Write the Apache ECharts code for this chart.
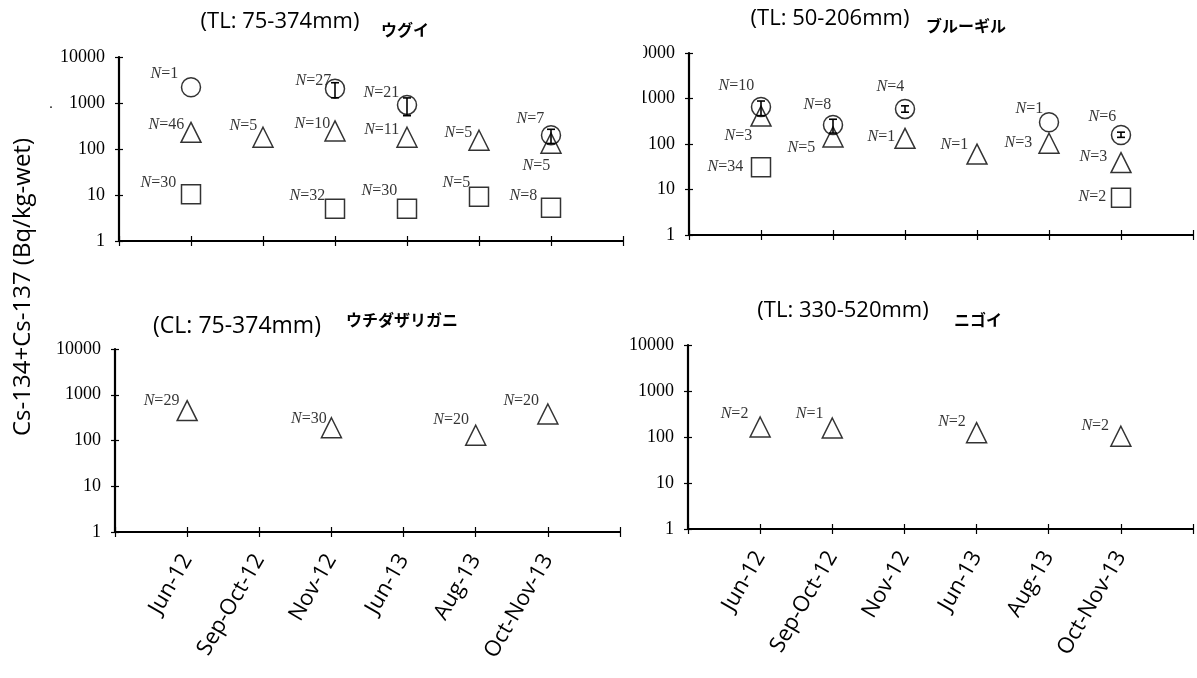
<!DOCTYPE html>
<html>
<head>
<meta charset="utf-8">
<script src="https://cdn.jsdelivr.net/npm/echarts@6/dist/echarts.min.js"></script>
<style>
html,body{margin:0;padding:0;background:#fff;}
#c{width:1197px;height:678px;}
</style>
</head>
<body>
<div id="c"></div>
<script>
// ---------- data ----------
const categories = ["Jun-12", "Sep-Oct-12", "Nov-12", "Jun-13", "Aug-13", "Oct-Nov-13"];
const yMin = 1, yMax = 10000;

// ウグイ
const uguiCircle     = [2200, null, 2040, 910, null, 200];
const uguiCircleLow  = [null, null, 1300, 530, null, 132];
const uguiCircleHigh = [null, null, 2760, 1290, null, 268];
const uguiCircleN    = [1, null, 27, 21, null, 7];
const uguiTriangle   = [230, 180, 247, 180, 155, 134];
const uguiTriangleN  = [46, 5, 10, 11, 5, 5];
const uguiSquare     = [10.4, null, 5.0, 5.0, 9.2, 5.3];
const uguiSquareN    = [30, null, 32, 30, 5, 8];

// ブルーギル
const bluegillCircle     = [650, 262, 590, null, 300, 158];
const bluegillCircleLow  = [420, 174, 500, null, null, 140];
const bluegillCircleHigh = [880, 350, 690, null, null, 182];
const bluegillCircleN    = [10, 8, 4, null, 1, 6];
const bluegillTriangle   = [410, 143, 133, 60, 104, 39];
const bluegillTriangleN  = [3, 5, 1, 1, 3, 3];
const bluegillSquare     = [31, null, null, null, null, 6.6];
const bluegillSquareN    = [34, null, null, null, null, 2];

// ウチダザリガニ
const crayfishTriangle  = [450, null, 190, null, 130, 380];
const crayfishTriangleN = [29, null, 30, null, 20, 20];

// ニゴイ
const nigoiTriangle  = [165, 157, null, 124, null, 104];
const nigoiTriangleN = [2, 1, null, 2, null, 2];

// ---------- label layout (offsets of "N=" labels, px: right edge dx, centre dy) ----------
const uguiCircleLabel       = [[-12,-13], null, [-3,-8], [-7,-12], null, [-6,-16]];
const uguiTriangleLabel     = [[-6,-8], [-5,-11], [-4,-7], [-7,-7], [-6,-7], [0,23]];
const uguiSquareLabel       = [[-14,-11], null, [-9,-13], [-9,-18], [-8,-14], [-13,-12]];
const bluegillCircleLabel   = [[-6,-21], [-1,-20], [0,-22], null, [-5,-13], [-4,-18]];
const bluegillTriangleLabel = [[-8,20], [-17,11], [-9,-2], [-8,-9], [-16,0], [-13,-6]];
const bluegillSquareLabel   = [[-17,0], null, null, null, null, [-14,-1]];
const crayfishTriangleLabel = [[-7,-10], null, [-4,-9], null, [-6,-15], [-8,-13]];
const nigoiTriangleLabel    = [[-11,-13], [-8,-14], null, [-10,-11], null, [-11,-10]];

// ---------- layout ----------
const grids = [
  {left:119, top:57,  width:504, height:184},
  {left:689, top:53,  width:504, height:182},
  {left:115, top:349, width:505, height:183},
  {left:688, top:345, width:505, height:184}
];
const showXLabels = [false, false, true, true];

const SERIF = '"Liberation Serif", "Times New Roman", serif';
const SANS = '"Open Sans", sans-serif';
const CJK = '"Noto Sans CJK JP", sans-serif';

const xAxes = [], yAxes = [];
grids.forEach((g, gi) => {
  const xBase = {
    type:'value', gridIndex:gi, min:0, max:categories.length + 1, interval:1,
    position:'bottom', splitLine:{show:false}
  };
  xAxes.push(Object.assign({}, xBase, {
    axisLine:{show:true, lineStyle:{color:'#000', width:2.2}},
    axisTick:{show:true, inside:false, length:5, lineStyle:{color:'#000', width:1.2}},
    axisLabel:{
      show:showXLabels[gi], rotate:60, margin:24, fontFamily:SANS, fontSize:22, color:'#000',
      formatter:v => categories[v - 1] || ''
    }
  }));
  xAxes.push(Object.assign({}, xBase, {
    axisLine:{show:false},
    axisTick:{show:true, inside:true, length:5, lineStyle:{color:'#000', width:1.2}},
    axisLabel:{show:false}
  }));
  const yBase = {
    type:'log', logBase:10, gridIndex:gi, min:yMin, max:yMax,
    position:'left', splitLine:{show:false}, minorTick:{show:false}
  };
  yAxes.push(Object.assign({}, yBase, {
    axisLine:{show:true, lineStyle:{color:'#000', width:2.2}},
    axisTick:{show:true, inside:false, length:4, lineStyle:{color:'#000', width:1.2}},
    axisLabel:{show:true, margin:14, fontFamily:SERIF, fontSize:18, color:'#000',
      formatter:v => String(Math.round(v))}
  }));
  yAxes.push(Object.assign({}, yBase, {
    axisLine:{show:false},
    axisTick:{show:true, inside:true, length:4, lineStyle:{color:'#000', width:1.2}},
    axisLabel:{show:false}
  }));
});

const labelRich = {
  i:{fontFamily:SERIF, fontStyle:'italic', fontSize:16, color:'#000'},
  n:{fontFamily:SERIF, fontSize:16, color:'#000'}
};

function scatterSeries(gi, symbol, size, values, ns, labelPos) {
  const w = Array.isArray(size) ? size[0] : size;
  const data = [];
  values.forEach((v, i) => {
    if (v == null) return;
    const lp = labelPos[i] || [-8, -10];
    data.push({value:[i + 1, v], n:ns[i], label:{offset:[lp[0] + w / 2, lp[1]]}});
  });
  return {
    type:'scatter', xAxisIndex:2 * gi, yAxisIndex:2 * gi,
    symbol:symbol, symbolSize:size, data:data, silent:true, z:3,
    itemStyle:{color:'rgba(0,0,0,0)', borderColor:'#000', borderWidth:1.5},
    label:{show:true, position:'left', distance:0,
      formatter:p => '{i|N}{n|=' + p.data.n + '}', rich:labelRich},
    emphasis:{disabled:true}
  };
}

function errorSeries(gi, lows, highs) {
  const data = [];
  lows.forEach((lo, i) => { if (lo != null && highs[i] != null) data.push([i + 1, lo, highs[i]]); });
  return {
    type:'custom', xAxisIndex:2 * gi, yAxisIndex:2 * gi, data:data, silent:true, z:4,
    encode:{x:0, y:[1, 2]},
    renderItem:(params, api) => {
      const x = api.value(0);
      const top = api.coord([x, api.value(2)]);
      const bot = api.coord([x, api.value(1)]);
      const w = 4;
      const st = {stroke:'#000', lineWidth:1.6};
      return {type:'group', children:[
        {type:'line', shape:{x1:top[0], y1:top[1], x2:bot[0], y2:bot[1]}, style:st},
        {type:'line', shape:{x1:top[0] - w, y1:top[1], x2:top[0] + w, y2:top[1]}, style:st},
        {type:'line', shape:{x1:bot[0] - w, y1:bot[1], x2:bot[0] + w, y2:bot[1]}, style:st}
      ]};
    }
  };
}

const CIRC = 19, TRI = [20, 20], SQ = 19;
const series = [
  scatterSeries(0, 'circle', CIRC, uguiCircle, uguiCircleN, uguiCircleLabel),
  errorSeries(0, uguiCircleLow, uguiCircleHigh),
  scatterSeries(0, 'triangle', TRI, uguiTriangle, uguiTriangleN, uguiTriangleLabel),
  scatterSeries(0, 'rect', SQ, uguiSquare, uguiSquareN, uguiSquareLabel),

  scatterSeries(1, 'circle', CIRC, bluegillCircle, bluegillCircleN, bluegillCircleLabel),
  errorSeries(1, bluegillCircleLow, bluegillCircleHigh),
  scatterSeries(1, 'triangle', TRI, bluegillTriangle, bluegillTriangleN, bluegillTriangleLabel),
  scatterSeries(1, 'rect', SQ, bluegillSquare, bluegillSquareN, bluegillSquareLabel),

  scatterSeries(2, 'triangle', TRI, crayfishTriangle, crayfishTriangleN, crayfishTriangleLabel),

  scatterSeries(3, 'triangle', TRI, nigoiTriangle, nigoiTriangleN, nigoiTriangleLabel)
];

function txt(x, y, text, font, extra) {
  return Object.assign({type:'text', x:x, y:y, silent:true, z:10,
    style:{text:text, font:font, fill:'#000', align:'center', verticalAlign:'middle'}}, extra || {});
}

const graphic = [
  // mask clipping the left part of the upper-right tick labels (as in the source image)
  {type:'rect', shape:{x:600, y:40, width:43, height:72}, style:{fill:'#fff'}, z:100, silent:true},
  txt(280, 22, '(TL: 75-374mm)', '22px ' + SANS),
  txt(405, 30, 'ウグイ', 'bold 16px ' + CJK),
  txt(830, 19, '(TL: 50-206mm)', '22px ' + SANS),
  txt(966, 26, 'ブルーギル', 'bold 16px ' + CJK),
  txt(237, 326, '(CL: 75-374mm)', '23px ' + SANS),
  txt(402, 320, 'ウチダザリガニ', 'bold 16px ' + CJK),
  txt(843, 311, '(TL: 330-520mm)', '22px ' + SANS),
  txt(978, 320, 'ニゴイ', 'bold 16px ' + CJK),
  txt(23, 287, 'Cs-134+Cs-137 (Bq/kg-wet)', '24px ' + SANS, {rotation:Math.PI / 2}),
  txt(51, 104, '.', '14px ' + SERIF)
];

const chart = echarts.init(document.getElementById('c'), null, {renderer:'canvas'});
chart.setOption({
  animation:false,
  backgroundColor:'#fff',
  grid:grids.map(g => Object.assign({outerBoundsMode:'none', containLabel:false}, g)),
  xAxis:xAxes,
  yAxis:yAxes,
  series:series,
  graphic:graphic
});
</script>
</body>
</html>
